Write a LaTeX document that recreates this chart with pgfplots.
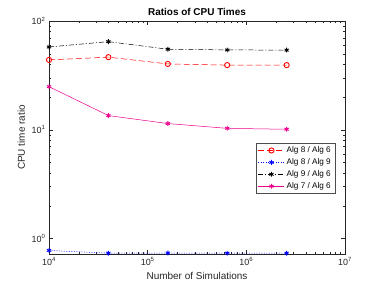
\documentclass[border=0pt]{standalone}
\usepackage{fontspec}
\setmainfont{Liberation Sans}
\usepackage{pgfplots}
\pgfplotsset{compat=1.18}

\begin{document}
\begin{tikzpicture}
\useasboundingbox (-49bp,-32bp) rectangle (333bp,254bp);
\begin{axis}[
    scale only axis,
    width=296bp, height=233bp,
    xmode=log, ymode=log,
    xmin=1e4, xmax=1e7,
    ymin=0.72, ymax=100,
    xtick={1e4,1e5,1e6,1e7},
    xticklabels={10\textsuperscript{4},10\textsuperscript{5},10\textsuperscript{6},10\textsuperscript{7}},
    ytick={1,10,100},
    yticklabels={10\textsuperscript{0},10\textsuperscript{1},10\textsuperscript{2}},
    tick label style={font=\fontsize{9}{10}\selectfont, black!85},
    axis line style={black!85},
    every tick/.style={black!85},
    major tick length=4bp, minor tick length=2bp,
    title={\textbf{Ratios of CPU Times}},
    title style={font=\fontsize{10}{12}\selectfont, yshift=-4bp},
    xlabel={Number of Simulations},
    ylabel={CPU time ratio},
    label style={font=\fontsize{10}{12}\selectfont, black!85},
    legend style={font=\fontsize{8.2}{9}\selectfont, at={(0.966,0.476)}, anchor=north east,
        draw=black!70, inner xsep=2bp, inner ysep=1.5bp, row sep=0.5bp},
    legend cell align=left,
    legend image code/.code={
        \draw[mark repeat=2, mark phase=2, #1] plot coordinates {(0bp,0bp) (13bp,0bp) (26bp,0bp)};},
    every axis plot/.append style={line width=0.5bp},
    mymark/.style={mark options={solid, line width=0.9bp}},
]
\addplot[red, dash pattern=on 6bp off 3bp, mark=o, mark size=2.6bp, mymark] coordinates {
    (1e4,43.9) (4e4,46.5) (1.6e5,40.3) (6.4e5,39.3) (2.56e6,39.3)};
\addlegendentry{Alg 8 / Alg 6}
\addplot[blue, dash pattern=on 1bp off 1.5bp, mark=asterisk, mark size=2.4bp, mymark] coordinates {
    (1e4,0.776) (4e4,0.733) (1.6e5,0.735) (6.4e5,0.733) (2.56e6,0.733)};
\addlegendentry{Alg 8 / Alg 9}
\addplot[black, dash pattern=on 5bp off 2bp on 1bp off 2bp, mark=asterisk, mark size=2.4bp, mymark] coordinates {
    (1e4,57.7) (4e4,64.6) (1.6e5,55) (6.4e5,54.2) (2.56e6,54)};
\addlegendentry{Alg 9 / Alg 6}
\addplot[magenta, solid, mark=asterisk, mark size=2.4bp, mymark] coordinates {
    (1e4,24.9) (4e4,13.5) (1.6e5,11.4) (6.4e5,10.3) (2.56e6,10.1)};
\addlegendentry{Alg 7 / Alg 6}
\end{axis}
\end{tikzpicture}
\end{document}
